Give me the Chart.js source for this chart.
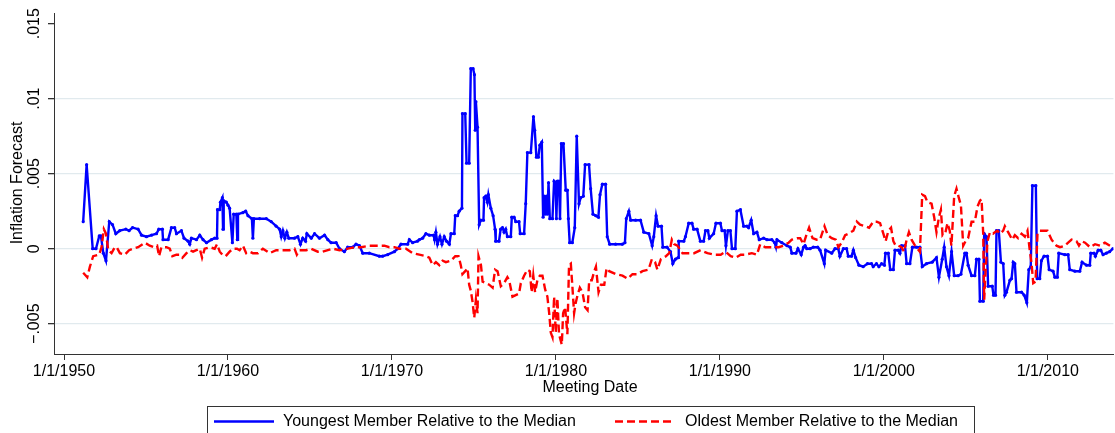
<!DOCTYPE html>
<html>
<head>
<meta charset="utf-8">
<script src="https://cdn.jsdelivr.net/npm/chart.js@4/dist/chart.umd.min.js"></script>
<style>
  html, body { margin: 0; padding: 0; background: #fff; }
  #wrap { width: 1115px; height: 433px; position: relative; }
</style>
</head>
<body>
<div id="wrap"><canvas id="chart"></canvas></div>
<script>
// youngest member relative to the median (meeting date as decimal year)
const youngDates = [
  1951.17, 1951.38, 1951.75, 1951.95, 1952.15, 1952.25, 1952.40, 1952.56, 1952.76, 1952.96,
  1953.16, 1953.40, 1953.77, 1953.97, 1954.18, 1954.52, 1954.73, 1955.03, 1955.34, 1955.64,
  1955.78, 1956.00, 1956.04, 1956.35, 1956.55, 1956.75, 1956.86, 1957.16, 1957.32, 1957.57,
  1957.67, 1957.77, 1958.08, 1958.28, 1958.48, 1958.69, 1958.99, 1959.19, 1959.33, 1959.36,
  1959.50, 1959.54, 1959.66, 1959.70, 1959.74, 1959.90, 1960.00, 1960.10, 1960.27, 1960.35,
  1960.51, 1960.57, 1960.61, 1960.91, 1961.08, 1961.22, 1961.46, 1961.52, 1961.58, 1961.93,
  1962.34, 1962.64, 1962.94, 1963.15, 1963.25, 1963.35, 1963.47, 1963.59, 1963.71, 1964.06,
  1964.26, 1964.42, 1964.56, 1964.73, 1964.81, 1965.08, 1965.28, 1965.58, 1965.89, 1966.09,
  1966.29, 1966.60, 1966.80, 1967.10, 1967.30, 1967.61, 1967.81, 1968.02, 1968.22, 1968.62,
  1969.23, 1969.43, 1969.74, 1970.15, 1970.35, 1970.55, 1970.96, 1971.06, 1971.26, 1971.56,
  1971.67, 1971.87, 1972.07, 1972.28, 1972.54, 1972.60, 1972.68, 1972.78, 1972.93, 1973.05,
  1973.19, 1973.33, 1973.50, 1973.60, 1973.80, 1973.86, 1974.00, 1974.10, 1974.27, 1974.30,
  1974.47, 1974.55, 1974.71, 1974.81, 1974.95, 1975.03, 1975.08, 1975.12, 1975.22, 1975.32,
  1975.42, 1975.58, 1975.62, 1975.72, 1975.82, 1975.88, 1976.03, 1976.17, 1976.29, 1976.33,
  1976.53, 1976.63, 1976.74, 1976.84, 1976.94, 1977.04, 1977.25, 1977.31, 1977.45, 1977.55,
  1977.75, 1977.82, 1978.06, 1978.16, 1978.26, 1978.47, 1978.63, 1978.71, 1978.81, 1978.93,
  1979.02, 1979.14, 1979.22, 1979.28, 1979.34, 1979.42, 1979.48, 1979.55, 1979.63, 1979.79,
  1979.89, 1979.99, 1980.03, 1980.09, 1980.19, 1980.25, 1980.33, 1980.46, 1980.60, 1980.70,
  1980.76, 1980.84, 1981.00, 1981.15, 1981.27, 1981.41, 1981.51, 1981.67, 1981.78, 1982.02,
  1982.12, 1982.26, 1982.43, 1982.59, 1982.69, 1982.83, 1983.03, 1983.13, 1983.28, 1983.64,
  1984.05, 1984.21, 1984.29, 1984.45, 1984.56, 1984.86, 1985.16, 1985.36, 1985.67, 1985.87,
  1985.97, 1986.11, 1986.23, 1986.44, 1986.52, 1986.78, 1986.99, 1987.13, 1987.29, 1987.45,
  1987.49, 1987.80, 1987.90, 1988.10, 1988.30, 1988.40, 1988.61, 1988.81, 1989.01, 1989.12,
  1989.27, 1989.36, 1989.62, 1989.76, 1990.03, 1990.13, 1990.29, 1990.37, 1990.49, 1990.64,
  1990.74, 1990.94, 1991.04, 1991.25, 1991.45, 1991.65, 1991.75, 1991.91, 1992.06, 1992.26,
  1992.40, 1992.67, 1992.87, 1993.17, 1993.34, 1993.42, 1993.48, 1993.78, 1994.09, 1994.29,
  1994.39, 1994.64, 1994.76, 1994.96, 1995.10, 1995.20, 1995.30, 1995.50, 1995.70, 1995.97,
  1996.11, 1996.37, 1996.45, 1996.82, 1997.02, 1997.22, 1997.32, 1997.53, 1997.73, 1997.83,
  1998.03, 1998.14, 1998.28, 1998.48, 1998.74, 1999.00, 1999.25, 1999.35, 1999.55, 1999.70,
  1999.86, 2000.03, 2000.10, 2000.27, 2000.39, 2000.58, 2000.68, 2000.88, 2000.98, 2001.08,
  2001.29, 2001.39, 2001.59, 2001.74, 2002.00, 2002.20, 2002.34, 2002.60, 2002.95, 2003.21,
  2003.36, 2003.56, 2003.68, 2003.82, 2003.97, 2004.13, 2004.29, 2004.53, 2004.70, 2004.94,
  2005.04, 2005.14, 2005.35, 2005.55, 2005.65, 2005.80, 2005.86, 2006.06, 2006.12, 2006.26,
  2006.36, 2006.61, 2006.69, 2006.81, 2006.87, 2007.01, 2007.14, 2007.28, 2007.38, 2007.48,
  2007.69, 2007.79, 2007.89, 2007.99, 2008.09, 2008.40, 2008.56, 2008.72, 2008.84, 2008.96,
  2009.06, 2009.27, 2009.35, 2009.51, 2009.61, 2009.77, 2009.98, 2010.08, 2010.32, 2010.43,
  2010.58, 2010.67, 2011.04, 2011.24, 2011.34, 2011.65, 2011.95, 2012.09, 2012.36, 2012.56,
  2012.62, 2012.82, 2012.90, 2013.07, 2013.23, 2013.37, 2013.57, 2013.77, 2013.97
];
const youngValues = [
  0.0018, 0.0056, 0.0000, 0.0000, 0.00085, 0.00085, -0.0003, -0.0008, 0.0018, 0.0016,
  0.0010, 0.0012, 0.0013, 0.0012, 0.0014, 0.0013, 0.0009, 0.0008, 0.0009, 0.0010,
  0.0013, 0.0013, 0.0006, 0.0006, 0.0014, 0.0014, 0.0010, 0.0012, 0.0007, 0.0005,
  0.0003, 0.0007, 0.0006, 0.0009, 0.0006, 0.0004, 0.0006, 0.0007, 0.0007, 0.0026,
  0.0026, 0.0031, 0.0034, 0.0013, 0.0032, 0.0031, 0.0029, 0.0027, 0.0004, 0.0023,
  0.0023, 0.0006, 0.0023, 0.0024, 0.0025, 0.0022, 0.0020, 0.0007, 0.0020, 0.0020,
  0.0020, 0.0018, 0.0015, 0.0013, 0.0008, 0.0012, 0.0007, 0.0011, 0.0007, 0.0007,
  0.0008, 0.0003, 0.0007, 0.0005, 0.0010, 0.0007, 0.0010, 0.0007, 0.0009, 0.0006,
  0.0004, 0.0004, 0.0000, -0.0002, 0.0001, 0.0001, 0.0003, 0.0002, -0.0003, -0.0003,
  -0.0005, -0.0005, -0.0004, -0.0002, 0.0000, 0.0003, 0.0003, 0.0006, 0.0004, 0.0005,
  0.0006, 0.0007, 0.0010, 0.0009, 0.0009, 0.0006, 0.0011, 0.0003, 0.0008, 0.0003,
  0.0008, 0.0005, 0.0003, 0.0010, 0.0010, 0.0022, 0.0022, 0.0025, 0.0027, 0.0090,
  0.0090, 0.0057, 0.0057, 0.0120, 0.0120, 0.0116, 0.0079, 0.0098, 0.0081, 0.0016,
  0.0019, 0.0019, 0.0034, 0.0035, 0.0031, 0.0036, 0.0027, 0.0022, 0.0013, 0.0005,
  0.0005, 0.0013, 0.0014, 0.0011, 0.0013, 0.0008, 0.0008, 0.0021, 0.0021, 0.0018,
  0.0018, 0.0010, 0.0010, 0.0030, 0.0064, 0.0064, 0.0088, 0.0079, 0.0061, 0.0061,
  0.0069, 0.0071, 0.0021, 0.0035, 0.0023, 0.0035, 0.0023, 0.0044, 0.0020, 0.0020,
  0.0045, 0.0044, 0.0020, 0.0045, 0.0045, 0.0020, 0.0070, 0.0070, 0.0039, 0.0039,
  0.0020, 0.0004, 0.0004, 0.0014, 0.0075, 0.0030, 0.0034, 0.0035, 0.0056, 0.0056,
  0.0040, 0.0023, 0.0022, 0.0021, 0.0036, 0.0043, 0.0043, 0.0008, 0.0003, 0.0003,
  0.0003, 0.0004, 0.0020, 0.0025, 0.0019, 0.0019, 0.0019, 0.0011, 0.0010, 0.0002,
  0.0008, 0.0022, 0.0015, 0.0015, 0.0001, 0.0001, -0.0002, -0.0010, -0.0007, -0.0006,
  0.0005, 0.0005, 0.0008, 0.0017, 0.0017, 0.0013, 0.0013, 0.0005, 0.0005, 0.0012,
  0.0012, 0.0007, 0.0010, 0.0017, 0.0017, 0.0012, 0.0012, 0.0002, 0.0012, 0.0012,
  0.0000, 0.0000, 0.0025, 0.0026, 0.0015, 0.0015, 0.0014, 0.0019, 0.0010, 0.0011,
  0.0006, 0.0007, 0.0006, 0.0006, 0.0004, 0.0001, 0.0006, 0.0004, 0.0002, 0.0001,
  -0.0003, -0.0003, 0.0000, -0.0004, 0.0001, 0.0002, 0.0000, 0.0000, 0.0001, 0.0001,
  -0.0001, -0.0010, -0.0001, -0.0003, 0.0000, 0.0000, -0.0005, 0.0000, 0.0000, -0.0005,
  -0.0005, -0.0001, -0.0006, -0.0011, -0.0012, -0.0010, -0.0010, -0.0012, -0.0010, -0.0012,
  -0.0010, -0.0011, -0.0003, -0.0003, -0.0014, -0.0014, -0.0001, -0.0001, -0.0003, 0.0002,
  0.0002, -0.0010, -0.0010, 0.0001, 0.0001, 0.0001, -0.0012, -0.0010, -0.0009, -0.0006,
  -0.0019, -0.0007, 0.0001, -0.0012, -0.0018, -0.0002, -0.0018, -0.0018, -0.0017, -0.0003,
  -0.0003, -0.0011, -0.0018, -0.0018, -0.0007, -0.0007, -0.0035, -0.0035, 0.0010, 0.0008,
  -0.0025, -0.0025, -0.0031, -0.0031, 0.0012, 0.0012, -0.0009, -0.0010, -0.0031, -0.0029,
  -0.0021, -0.0020, -0.0009, -0.0010, -0.0029, -0.0029, -0.0031, -0.0036, -0.0014, -0.0012,
  0.0042, 0.0042, -0.0020, -0.0020, -0.0008, -0.0005, -0.0005, -0.0014, -0.0015, -0.0019,
  -0.0019, -0.0003, -0.0004, -0.0004, -0.0014, -0.0015, -0.0015, -0.0009, -0.0011, -0.0011,
  -0.0003, -0.0003, -0.0005, -0.0001, -0.0001, -0.0004, -0.0003, -0.0002, 0.0000
];

// oldest member relative to the median
const oldDates = [
  1951.17, 1951.42, 1951.58, 1951.78, 1952.15, 1952.29, 1952.43, 1952.56, 1952.70, 1952.90,
  1953.10, 1953.21, 1953.41, 1953.71, 1953.97, 1954.22, 1954.52, 1954.93, 1955.23, 1955.48,
  1955.68, 1955.80, 1955.94, 1956.25, 1956.45, 1956.61, 1956.86, 1957.06, 1957.22, 1957.47,
  1957.67, 1957.87, 1958.07, 1958.28, 1958.42, 1958.58, 1958.89, 1959.19, 1959.33, 1959.50,
  1959.66, 1959.86, 1960.10, 1960.30, 1960.55, 1960.71, 1960.91, 1961.11, 1961.32, 1961.52,
  1961.83, 1962.13, 1962.54, 1962.94, 1963.35, 1963.76, 1964.06, 1964.20, 1964.36, 1964.77,
  1965.07, 1965.48, 1965.78, 1966.09, 1966.40, 1966.80, 1967.31, 1967.71, 1968.12, 1968.62,
  1969.23, 1969.54, 1969.84, 1970.15, 1970.45, 1970.86, 1971.26, 1971.67, 1972.07, 1972.28,
  1972.48, 1972.68, 1972.89, 1973.09, 1973.29, 1973.60, 1973.86, 1974.06, 1974.20, 1974.30,
  1974.47, 1974.61, 1974.71, 1974.81, 1974.91, 1975.02, 1975.12, 1975.22, 1975.28, 1975.43,
  1975.53, 1975.73, 1975.93, 1976.14, 1976.29, 1976.44, 1976.64, 1976.84, 1977.04, 1977.15,
  1977.35, 1977.55, 1977.75, 1977.86, 1978.06, 1978.26, 1978.41, 1978.52, 1978.62, 1978.73,
  1978.87, 1979.02, 1979.18, 1979.34, 1979.48, 1979.59, 1979.69, 1979.79, 1979.89, 1979.99,
  1980.09, 1980.19, 1980.36, 1980.44, 1980.56, 1980.70, 1980.80, 1980.91, 1981.01, 1981.11,
  1981.21, 1981.32, 1981.46, 1981.62, 1981.78, 1981.93, 1982.03, 1982.19, 1982.34, 1982.44,
  1982.60, 1982.75, 1982.95, 1983.09, 1983.25, 1983.66, 1984.06, 1984.37, 1984.67, 1984.98,
  1985.28, 1985.65, 1985.85, 1986.05, 1986.19, 1986.40, 1986.71, 1986.91, 1987.07, 1987.21,
  1987.41, 1987.72, 1988.12, 1988.43, 1988.83, 1989.24, 1989.64, 1990.05, 1990.35, 1990.66,
  1990.96, 1991.27, 1991.55, 1991.95, 1992.26, 1992.46, 1992.77, 1993.17, 1993.58, 1993.88,
  1994.19, 1994.39, 1994.70, 1994.90, 1995.10, 1995.30, 1995.44, 1995.65, 1995.91, 1996.11,
  1996.38, 1996.58, 1996.82, 1997.07, 1997.23, 1997.43, 1997.64, 1997.84, 1998.14, 1998.35,
  1998.55, 1998.86, 1999.10, 1999.36, 1999.56, 1999.77, 1999.97, 2000.11, 2000.28, 2000.44,
  2000.58, 2000.72, 2000.88, 2001.08, 2001.23, 2001.39, 2001.53, 2001.69, 2001.90, 2002.20,
  2002.34, 2002.51, 2002.66, 2002.91, 2003.07, 2003.21, 2003.36, 2003.48, 2003.58, 2003.76,
  2003.88, 2004.02, 2004.12, 2004.29, 2004.43, 2004.57, 2004.70, 2004.84, 2004.98, 2005.14,
  2005.35, 2005.55, 2005.71, 2005.86, 2005.96, 2006.06, 2006.12, 2006.20, 2006.32, 2006.47,
  2006.67, 2006.77, 2006.93, 2007.08, 2007.28, 2007.38, 2007.58, 2007.83, 2007.99, 2008.19,
  2008.40, 2008.60, 2008.76, 2008.91, 2009.01, 2009.11, 2009.25, 2009.37, 2009.52, 2009.72,
  2009.98, 2010.23, 2010.53, 2010.74, 2011.04, 2011.24, 2011.45, 2011.75, 2011.90, 2012.06,
  2012.27, 2012.57, 2012.88, 2013.18, 2013.48, 2013.79
];
const oldValues = [
  -0.0016, -0.0019, -0.0012, -0.0005, -0.0004, 0.0001, 0.0013, 0.0010, -0.0001, -0.0003,
  0.0001, 0.0001, -0.0003, -0.0004, -0.0001, 0.0000, 0.0001, 0.0004, 0.0002, 0.0001,
  0.0002, -0.0005, 0.0001, 0.0001, 0.0000, -0.0005, -0.0004, -0.0004, -0.0006, -0.0003,
  -0.0001, -0.0002, -0.0001, 0.0000, -0.0006, 0.0000, 0.0001, 0.0000, 0.0003, -0.0002,
  -0.0004, -0.0005, -0.0002, 0.0000, 0.0000, -0.0001, 0.0002, -0.0003, -0.0002, -0.0003,
  -0.0003, 0.0000, -0.0003, -0.0001, -0.0001, -0.0001, 0.0000, -0.0004, -0.0001, -0.0001,
  0.0000, -0.0002, -0.0002, -0.0001, 0.0000, -0.0001, 0.0000, 0.0001, 0.0001, 0.0002,
  0.0002, 0.0002, 0.0001, 0.0001, 0.0000, 0.0000, -0.0003, -0.0004, -0.0005, -0.0006,
  -0.0011, -0.0009, -0.0011, -0.0008, -0.0009, -0.0008, -0.0005, -0.0005, -0.0011, -0.0017,
  -0.0015, -0.0013, -0.0024, -0.0028, -0.0035, -0.0046, -0.0034, -0.0043, -0.0005, -0.0011,
  -0.0022, -0.0023, -0.0024, -0.0026, -0.0014, -0.0015, -0.0025, -0.0023, -0.0019, -0.0021,
  -0.0032, -0.0031, -0.0030, -0.0023, -0.0018, -0.0014, -0.0015, -0.0029, -0.0018, -0.0029,
  -0.0021, -0.0018, -0.0018, -0.0027, -0.0032, -0.0043, -0.0056, -0.0059, -0.0032, -0.0056,
  -0.0033, -0.0057, -0.0064, -0.0043, -0.0039, -0.0057, -0.0011, -0.0010, -0.0026, -0.0043,
  -0.0036, -0.0031, -0.0026, -0.0029, -0.0039, -0.0041, -0.0021, -0.0021, -0.0015, -0.0012,
  -0.0029, -0.0024, -0.0024, -0.0013, -0.0015, -0.0017, -0.0018, -0.0020, -0.0017, -0.0017,
  -0.0015, -0.0014, -0.0007, -0.0009, -0.0014, -0.0007, -0.0005, -0.0003, 0.0006, 0.0003,
  0.0002, -0.0003, -0.0003, -0.0003, -0.0001, -0.0003, -0.0004, -0.0004, -0.0002, -0.0005,
  -0.0006, -0.0004, -0.0004, -0.0003, -0.0004, 0.0003, 0.0001, 0.0001, 0.0001, 0.0002,
  0.0004, 0.0006, 0.0007, 0.0007, 0.0003, 0.0010, 0.0014, 0.0007, 0.0006, 0.0006,
  0.0015, 0.0009, 0.0007, 0.0006, 0.0001, 0.0004, 0.0009, 0.0010, 0.0012, 0.0018,
  0.0016, 0.0015, 0.0014, 0.0018, 0.0018, 0.0017, 0.0010, 0.0005, 0.0012, 0.0014,
  0.0005, 0.0002, 0.0002, 0.0001, -0.0002, 0.0006, 0.0011, 0.0006, 0.0002, -0.0002,
  0.0036, 0.0035, 0.0031, 0.0030, 0.0021, 0.0011, 0.0021, 0.0026, 0.0009, 0.0011,
  0.0017, 0.0012, 0.0002, 0.0035, 0.0040, 0.0034, 0.0029, 0.0002, 0.0005, 0.0007,
  0.0018, 0.0018, 0.0028, 0.0032, 0.0033, 0.0010, -0.0034, -0.0016, 0.0005, 0.0011,
  0.0010, 0.0011, 0.0012, 0.0010, 0.0012, 0.0015, 0.0011, 0.0006, 0.0009, 0.0007,
  0.0010, 0.0008, 0.0012, -0.0002, -0.0010, -0.0023, -0.0022, 0.0010, 0.0012, 0.0012,
  0.0012, 0.0006, 0.0002, 0.0001, 0.0002, 0.0004, 0.0006, 0.0005, 0.0002, 0.0005,
  0.0004, 0.0001, 0.0003, 0.0002, 0.0004, 0.0002
];

const xTicks = [1950, 1960, 1970, 1980, 1990, 2000, 2010];
const yTicks = [-0.005, 0, 0.005, 0.01, 0.015];

const seriesNames = ['Youngest Member Relative to the Median', 'Oldest Member Relative to the Median'];

const FONT = "'Liberation Sans', Arial, sans-serif";
const toPoints = (xs, ys) => xs.map((x, i) => ({ x, y: ys[i] }));

const fmtY = v => {
  if (v === 0) return '0';
  const s = String(Math.abs(v)).replace(/^0/, '');
  return (v < 0 ? '\u2212' : '') + s;
};

// y tick labels, axis titles and the boxed legend, Stata style
const decorPlugin = {
  id: 'decor',
  afterDraw(chart) {
    const ctx = chart.ctx;
    const y = chart.scales.y;
    ctx.save();
    ctx.fillStyle = '#000';
    ctx.font = '16px ' + FONT;
    ctx.textAlign = 'center';
    ctx.textBaseline = 'middle';
    yTicks.forEach(v => {
      const py = y.getPixelForValue(v);
      ctx.save();
      ctx.translate(35, py);
      ctx.rotate(-Math.PI / 2);
      ctx.fillText(fmtY(v), 0, 0);
      ctx.restore();
    });
    // y title
    ctx.save();
    ctx.translate(17.5, 183);
    ctx.rotate(-Math.PI / 2);
    ctx.fillText('Inflation Forecast', 0, 0);
    ctx.restore();
    // x title
    ctx.fillText('Meeting Date', 590, 388);

    // legend
    ctx.strokeStyle = '#333';
    ctx.lineWidth = 1;
    ctx.strokeRect(207.5, 406.5, 767, 40);
    const items = [
      { x0: 214, x1: 274, tx: 283 },
      { x0: 615, x1: 675, tx: 685 }
    ];
    items.forEach((it, i) => {
      const ds = chart.data.datasets[i];
      ctx.beginPath();
      ctx.strokeStyle = ds.borderColor;
      ctx.lineWidth = ds.borderWidth;
      ctx.setLineDash(ds.borderDash || []);
      ctx.moveTo(it.x0, 421.5);
      ctx.lineTo(it.x1, 421.5);
      ctx.stroke();
      ctx.setLineDash([]);
      ctx.textAlign = 'left';
      ctx.fillStyle = '#000';
      ctx.fillText(seriesNames[i], it.tx, 422);
    });
    ctx.restore();
  }
};

new Chart(document.getElementById('chart'), {
  type: 'line',
  data: {
    datasets: [{
      label: seriesNames[0],
      data: toPoints(youngDates, youngValues),
      borderColor: '#0000ff',
      backgroundColor: '#0000ff',
      borderWidth: 2.4,
      pointRadius: 1.6,
      pointBorderWidth: 0,
      pointHoverRadius: 0,
      tension: 0,
      order: 1
    }, {
      label: seriesNames[1],
      data: toPoints(oldDates, oldValues),
      borderColor: '#ff0000',
      backgroundColor: '#ff0000',
      borderWidth: 2.4,
      borderDash: [8, 4],
      pointRadius: 0,
      tension: 0,
      order: 0
    }]
  },
  options: {
    responsive: true,
    maintainAspectRatio: false,
    animation: false,
    layout: { padding: { top: 13, left: 0, right: 0, bottom: 0 } },
    plugins: {
      legend: { display: false },
      tooltip: { enabled: false }
    },
    scales: {
      x: {
        type: 'linear',
        min: 1949.39,
        max: 2014.0,
        afterBuildTicks: s => { s.ticks = xTicks.map(v => ({ value: v })); },
        afterFit: s => { s.height = 79; },
        ticks: {
          callback: v => '1/1/' + v,
          font: { size: 16, family: FONT },
          color: '#000',
          maxRotation: 0,
          autoSkip: false,
          padding: 2
        },
        grid: { drawOnChartArea: false, tickLength: 6, tickColor: '#333', lineWidth: 1 },
        border: { color: '#333', width: 1 }
      },
      y: {
        min: -0.00702,
        max: 0.01571,
        afterBuildTicks: s => { s.ticks = yTicks.map(v => ({ value: v })); },
        afterFit: s => { s.width = 54; },
        ticks: { display: false },
        grid: {
          color: c => (c.tick && c.tick.value === 0.015 ? 'rgba(0,0,0,0)' : '#e1eaee'),
          lineWidth: 1.3,
          tickLength: 6,
          tickColor: '#333'
        },
        border: { color: '#333', width: 1 }
      }
    }
  },
  plugins: [decorPlugin]
});
</script>
</body>
</html>
